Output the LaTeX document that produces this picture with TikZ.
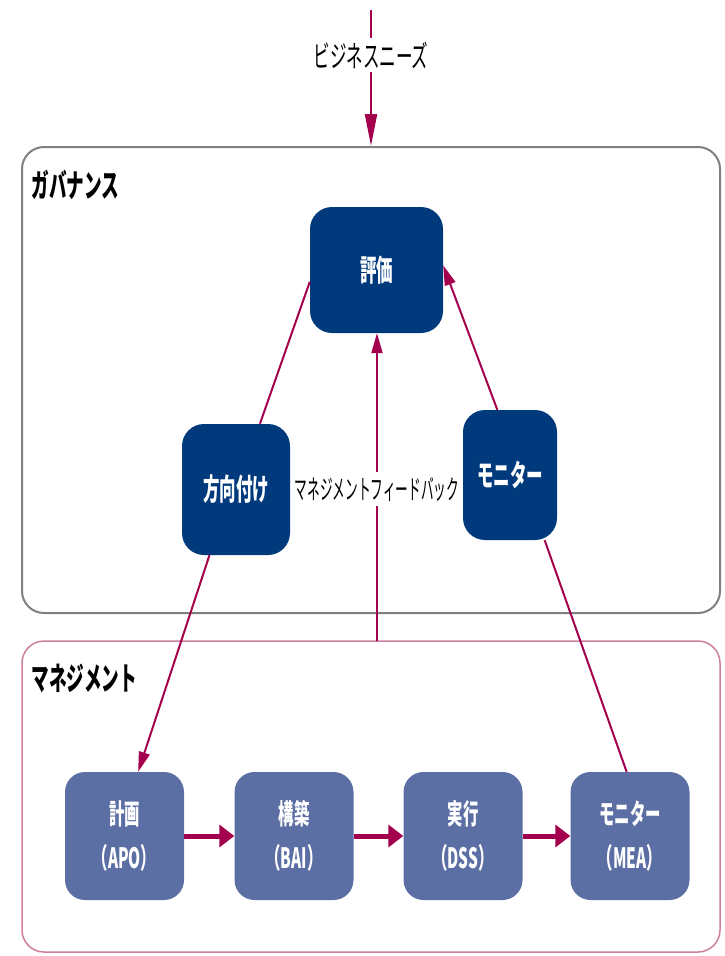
\documentclass[tikz,border=0pt]{standalone}
\usepackage{fontspec}
\setmainfont{Noto Sans CJK JP}[FakeStretch=0.55]
\newfontfamily\fbfont{Noto Sans CJK JP}[FakeStretch=0.47]
\usepackage{tikz}
\usetikzlibrary{arrows.meta}

\definecolor{govblue}{HTML}{003A7D}
\definecolor{mgmtblue}{HTML}{5C6FA4}
\definecolor{flowred}{HTML}{A3004D}
\definecolor{mgmtframe}{HTML}{CC7FA0}
\definecolor{govframe}{HTML}{7F7F7F}

\begin{document}
\begin{tikzpicture}[x=1pt, y=-1pt,
	govbox/.style={fill=govblue, text=white, rounded corners=22pt, font=\fontsize{30}{34}\selectfont\bfseries},
	mgmtbox/.style={fill=mgmtblue, text=white, rounded corners=20pt, align=center, minimum width=119pt, minimum height=128pt, font=\fontsize{28}{44}\selectfont\bfseries},
	flow/.style={draw=flowred, line width=2pt},
	flowtip/.style={flow, -{Triangle[length=20pt, width=11pt]}},
	stepflow/.style={draw=flowred, line width=5pt, -{Triangle[length=15pt, width=22pt]}},
	framelabel/.style={anchor=west, font=\fontsize{32}{36}\selectfont\bfseries}]
	\useasboundingbox (0,0) rectangle (725,956);
	% frames
	\draw [govframe, line width=2pt, rounded corners=22pt] (22,147) rectangle (720,613);
	\draw [mgmtframe, line width=1.5pt, rounded corners=22pt] (22,641) rectangle (720,952);
	\node [framelabel] (govlabel) at (28,185) {ガバナンス};
	\node [framelabel] (mgmtlabel) at (28,678) {マネジメント};
	% governance
	\node [govbox, minimum width=133pt, minimum height=126pt] (hyouka) at (376.5,270) {評価};
	\node [govbox, minimum width=108pt, minimum height=131pt] (houkou) at (236,489.5) {方向付け};
	\node [govbox, minimum width=94pt, minimum height=130pt] (govmon) at (510,475) {モニター};
	% management
	\node [mgmtbox] (keikaku) at (124.5,836) {計画\\（APO）};
	\node [mgmtbox] (kouchiku) at (294,836) {構築\\（BAI）};
	\node [mgmtbox] (jikkou) at (463,836) {実行\\（DSS）};
	\node [mgmtbox] (mea) at (630,836) {モニター\\（MEA）};
	% business needs
	\coordinate (needtop) at (371,10);
	\coordinate (govtop) at (371,146);
	\node [font=\fontsize{30}{34}\selectfont] (needs) at (371,55) {ビジネスニーズ};
	\draw [flow] (needtop) -- (needs.north);
	\draw [flow, -{Triangle[length=32pt, width=12pt]}] (needs.south) -- (govtop);
	% feedback
	\coordinate (fbstart) at (377,641);
	\node [fill=white, inner xsep=0pt, inner ysep=5pt, font=\fontsize{27}{30}\fbfont] (feedback) at (377,489) {マネジメントフィードバック};
	\draw [flow] (fbstart) -- (feedback.south -| fbstart);
	\draw [flowtip] (feedback.north -| fbstart) -- (hyouka.south -| fbstart);
	% connectors
	\draw [flow] (houkou.70) -- (hyouka.190);
	\draw [flowtip] (govmon.101) -- (hyouka.4);
	\draw [flowtip] (houkou.248) -- (keikaku.78);
	\draw [flow] (mea.93) -- (govmon.298);
	\draw [stepflow] (keikaku) -- (kouchiku);
	\draw [stepflow] (kouchiku) -- (jikkou);
	\draw [stepflow] (jikkou) -- (mea);
\end{tikzpicture}
\end{document}
